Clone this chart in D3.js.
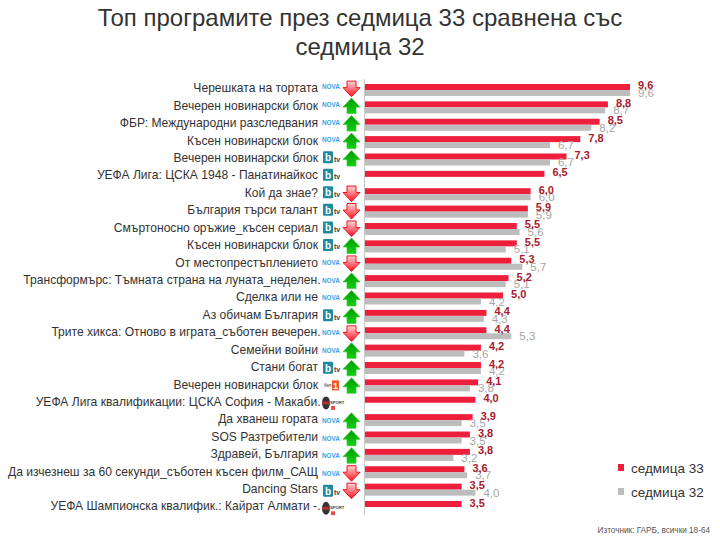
<!DOCTYPE html>
<html>
<head>
<meta charset="utf-8">
<script src="https://cdn.jsdelivr.net/npm/d3@7"></script>
<style>
  html, body { margin: 0; padding: 0; background: #fff; }
  text { font-family: "Liberation Sans", Arial, sans-serif; }
</style>
</head>
<body>
<div id="chart-area"></div>
<script>
// Dataset
var programmes = ['Черешката на тортата', 'Вечерен новинарски блок', 'ФБР: Международни разследвания', 'Късен новинарски блок', 'Вечерен новинарски блок', 'УЕФА Лига: ЦСКА 1948 - Панатинайкос', 'Кой да знае?', 'България търси талант', 'Смъртоносно оръжие_късен сериал', 'Късен новинарски блок', 'От местопрестъплението', 'Трансформърс: Тъмната страна на луната_неделен.', 'Сделка или не', 'Аз обичам България', 'Трите хикса: Отново в играта_съботен вечерен.', 'Семейни войни', 'Стани богат', 'Вечерен новинарски блок', 'УЕФА Лига квалификации: ЦСКА София - Макаби.', 'Да хванеш гората', 'SOS Разтребители', 'Здравей, България', 'Да изчезнеш за 60 секунди_съботен късен филм_САЩ', 'Dancing Stars', 'УЕФА Шампионска квалифик.: Кайрат Алмати -.'];
var week33 = [9.6, 8.8, 8.5, 7.8, 7.3, 6.5, 6.0, 5.9, 5.5, 5.5, 5.3, 5.2, 5.0, 4.4, 4.4, 4.2, 4.2, 4.1, 4.0, 3.9, 3.8, 3.8, 3.6, 3.5, 3.5];
var week32 = [9.6, 8.7, 8.2, 6.7, 6.7, null, 6.0, 5.9, 5.6, 5.1, 5.7, 5.1, 4.2, 4.3, 5.3, 3.6, 4.2, 3.8, null, 3.5, 3.5, 3.2, 3.7, 4.0, null];
var channels = ['nova', 'nova', 'nova', 'nova', 'btv', 'btv', 'btv', 'btv', 'btv', 'btv', 'nova', 'nova', 'nova', 'btv', 'nova', 'nova', 'btv', 'bnt', 'ring', 'nova', 'nova', 'nova', 'nova', 'btv', 'ring'];
var trends = ['down', 'up', 'up', 'up', 'up', null, 'down', 'down', 'down', 'up', 'down', 'up', 'up', 'up', 'down', 'up', 'up', 'up', null, 'up', 'up', 'up', 'down', 'down', null];
var seriesNames = ['седмица 33', 'седмица 32'];

var red = '#ee1f3d', grey = '#bdbdbd';
var fmt = function (v) { return v.toFixed(1).replace('.', ','); };
var idx = d3.range(programmes.length);

// Setup SVG
var svg = d3.select('#chart-area').append('svg')
  .attr('width', 720)
  .attr('height', 540);

// Title
svg.append('text').attr('x', 360).attr('y', 26)
  .attr('text-anchor', 'middle').style('font-size', '24px').attr('fill', '#333')
  .text('Топ програмите през седмица 33 сравнена със');
svg.append('text').attr('x', 360).attr('y', 55)
  .attr('text-anchor', 'middle').style('font-size', '24px').attr('fill', '#333')
  .text('седмица 32');

// Scales - the labels and icons in the original sit on a slightly wider pitch than the bars
var x = d3.scaleLinear().domain([0, 9.6]).range([365, 630]);
var y = d3.scaleBand().domain(idx).range([79.8, 514.2]);
var yLabel = d3.scaleBand().domain(idx).range([79.8, 515.3]);
var yArrow = d3.scaleBand().domain(idx).range([79.9, 516.9]);
var yLogo = d3.scaleBand().domain(idx).range([78.2, 517]);

// Gradients for the arrows
var defs = svg.append('defs');
function grad(id, c1, c2) {
  var g = defs.append('linearGradient').attr('id', id).attr('x1', 0).attr('y1', 0).attr('x2', 0).attr('y2', 1);
  g.append('stop').attr('offset', '0%').attr('stop-color', c1);
  g.append('stop').attr('offset', '100%').attr('stop-color', c2);
}
grad('gradUp', '#009c00', '#12d012');
grad('gradDown', '#ffd8d8', '#ff1020');

// Category labels
var axis = d3.axisLeft(yLabel).tickSize(0).tickPadding(0).tickFormat(function (i) { return programmes[i]; });
var axisG = svg.append('g').attr('transform', 'translate(318,0)').call(axis);
axisG.select('.domain').remove();
axisG.selectAll('text').style('font-size', '12.08px').attr('fill', '#333')
  .attr('x', function (i) { return programmes[i].slice(-1) === '.' ? 2.5 : 0; });

// Vertical base line
svg.append('line').attr('x1', 364.5).attr('x2', 364.5).attr('y1', 79).attr('y2', 515)
  .attr('stroke', '#c8c8c8');

// Bars
var rows = svg.selectAll('.row').data(idx).enter().append('g').attr('class', 'row')
  .attr('transform', function (i) { return 'translate(0,' + (y(i) + y.bandwidth() / 2) + ')'; });

rows.append('rect').attr('x', x(0)).attr('y', -4.5).attr('height', 6)
  .attr('width', function (i) { return x(week33[i]) - x(0); }).attr('fill', red);

rows.filter(function (i) { return week32[i] !== null; }).append('rect')
  .attr('x', x(0)).attr('y', 1.5).attr('height', 6)
  .attr('width', function (i) { return x(week32[i]) - x(0); })
  .attr('fill', grey);

// Value labels (grey under red)
rows.filter(function (i) { return week32[i] !== null; }).append('text')
  .attr('x', function (i) { return x(week32[i]) + 8; }).attr('y', 8.5).style('font-size', '11.5px')
  .attr('fill', '#a6a6a6').text(function (i) { return fmt(week32[i]); });
rows.append('text')
  .attr('x', function (i) { return x(week33[i]) + 8; }).attr('y', 1).style('font-size', '11px')
  .style('font-weight', 'bold').attr('fill', '#a8202f').text(function (i) { return fmt(week33[i]); });

// Channel logos
var logos = svg.selectAll('.logo').data(idx).enter().append('g').attr('class', 'logo')
  .attr('transform', function (i) { return 'translate(322,' + (yLogo(i) + yLogo.bandwidth() / 2) + ')'; });

logos.each(function (i) {
  var g = d3.select(this);
  var c = channels[i];
  if (c === 'nova') {
    g.append('text').attr('x', 0).attr('y', 2.5).style('font-size', '6.4px').style('font-weight', 'bold')
      .attr('fill', '#35a5ee').text('NOVA');
  } else if (c === 'btv') {
    g.append('rect').attr('x', 1).attr('y', -6).attr('width', 10).attr('height', 12).attr('rx', 1).attr('fill', '#1f8aa0');
    g.append('text').attr('x', 3).attr('y', 4).style('font-size', '10px').style('font-weight', 'bold')
      .attr('fill', '#fff').text('b');
    g.append('text').attr('x', 12).attr('y', 4.5).style('font-size', '7px').style('font-weight', 'bold')
      .attr('fill', '#444').text('tv');
  } else if (c === 'bnt') {
    g.append('text').attr('x', 2).attr('y', 2).style('font-size', '4.5px').style('font-weight', 'bold')
      .attr('fill', '#666').text('бнт');
    g.append('rect').attr('x', 10).attr('y', -5).attr('width', 7).attr('height', 10).attr('fill', '#f05a22');
    g.append('text').attr('x', 11).attr('y', 4).style('font-size', '9px').style('font-weight', 'bold')
      .attr('fill', '#fff').text('1');
  } else {
    g.append('ellipse').attr('cx', 4).attr('cy', 0).attr('rx', 4).attr('ry', 6.5).attr('fill', '#333');
    g.append('rect').attr('x', 0).attr('y', -1.5).attr('width', 8).attr('height', 3).attr('fill', '#a33');
    g.append('text').attr('x', 8).attr('y', 1).style('font-size', '4.2px').style('font-weight', 'bold')
      .attr('fill', '#444').text('SPORT');
    g.append('rect').attr('x', 9).attr('y', 3).attr('width', 4).attr('height', 4).attr('fill', '#e85050');
  }
});

// Trend arrows
var arrowUp = d3.line()([[0, -8], [8.5, 1], [4.5, 1], [4.5, 7.5], [-4.5, 7.5], [-4.5, 1], [-8.5, 1]]) + 'Z';
var arrowDown = d3.line()([[0, 8], [8.5, -1], [4.5, -1], [4.5, -7.5], [-4.5, -7.5], [-4.5, -1], [-8.5, -1]]) + 'Z';
svg.selectAll('.arrow').data(idx.filter(function (i) { return trends[i] !== null; })).enter().append('path')
  .attr('class', 'arrow')
  .attr('transform', function (i) { return 'translate(351.5,' + (yArrow(i) + yArrow.bandwidth() / 2) + ')'; })
  .attr('d', function (i) { return trends[i] === 'up' ? arrowUp : arrowDown; })
  .attr('fill', function (i) { return trends[i] === 'up' ? 'url(#gradUp)' : 'url(#gradDown)'; })
  .attr('stroke', function (i) { return trends[i] === 'up' ? '#3cc03c' : '#f4101e'; })
  .attr('stroke-width', function (i) { return trends[i] === 'up' ? 0.7 : 1; });

// Setup Legend
var legend = svg.selectAll('.legendItem').data(seriesNames).enter().append('g')
  .attr('class', 'legendItem')
  .attr('transform', function (d, i) { return 'translate(618,' + (464 + i * 24) + ')'; });
legend.append('rect').attr('width', 6).attr('height', 7)
  .attr('fill', function (d, i) { return i === 0 ? red : grey; });
legend.append('text').attr('x', 13).attr('y', 8.5).style('font-size', '13.5px').attr('fill', '#333').text(function (d) { return d; });

// Source
svg.append('text').attr('x', 710).attr('y', 533).attr('text-anchor', 'end')
  .style('font-size', '8.2px').attr('fill', '#555').text('Източник: ГАРБ, всички 18-64');
</script>
</body>
</html>
